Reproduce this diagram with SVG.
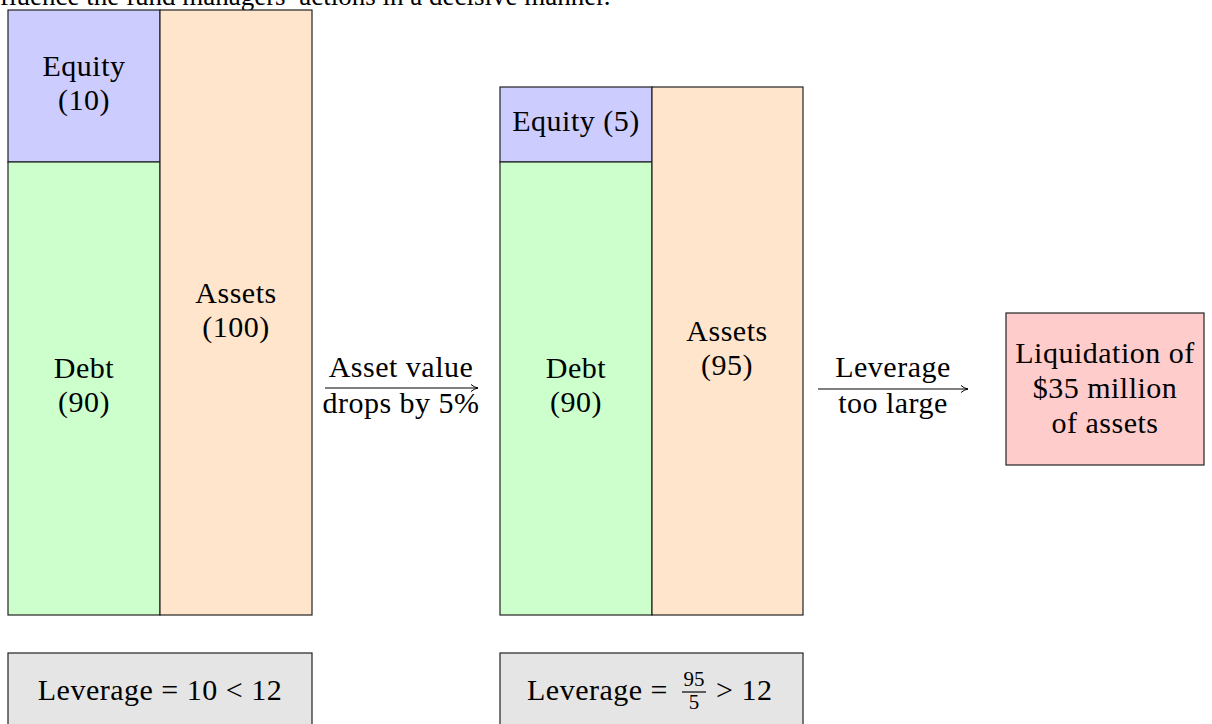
<svg xmlns="http://www.w3.org/2000/svg" width="1212" height="724" viewBox="0 0 1212 724">
<style>
text{font-family:"Liberation Serif","Times New Roman",serif;font-size:30px;fill:#000;text-anchor:middle;letter-spacing:0.5px}
.box{stroke:#222;stroke-width:1.2}
.eq{fill:#CCCCFF}.debt{fill:#CCFFCC}.ast{fill:#FFE5CC}.liq{fill:#FFCCCC}.lev{fill:#E5E5E5}
.conn{stroke:#000;stroke-width:1;fill:none;marker-end:url(#to)}
.sm{font-size:21px;letter-spacing:0}
</style>
<defs>
<marker id="to" viewBox="0 0 10 10" refX="9" refY="5" markerWidth="10" markerHeight="10" markerUnits="userSpaceOnUse" orient="auto">
<path d="M2,1.5 Q5,4.2 9,5 Q5,5.8 2,8.5" fill="none" stroke="#000" stroke-width="1"/>
</marker>
</defs>
<text x="-21" y="5" style="text-anchor:start;letter-spacing:0;font-size:27px">influence the fund managers’ actions in a decisive manner.</text>
<g id="before">
<g id="equity1"><rect class="box eq" x="8" y="10" width="152" height="152"/><text x="84" y="76">Equity</text><text x="84" y="110">(10)</text></g>
<g id="debt1"><rect class="box debt" x="8" y="162" width="152" height="453"/><text x="84" y="378">Debt</text><text x="84" y="412">(90)</text></g>
<g id="assets1"><rect class="box ast" x="160" y="10" width="152" height="605"/><text x="236" y="303">Assets</text><text x="236" y="337">(100)</text></g>
</g>
<g id="after">
<g id="equity2"><rect class="box eq" x="500" y="87" width="152" height="75"/><text x="576" y="131">Equity (5)</text></g>
<g id="debt2"><rect class="box debt" x="500" y="162" width="152" height="453"/><text x="576" y="378">Debt</text><text x="576" y="412">(90)</text></g>
<g id="assets2"><rect class="box ast" x="652" y="87" width="151" height="528"/><text x="727" y="341">Assets</text><text x="727" y="375">(95)</text></g>
</g>
<g id="liquidation"><rect class="box liq" x="1006" y="313" width="198" height="152"/><text x="1105" y="363">Liquidation of</text><text x="1105" y="398">$35 million</text><text x="1105" y="433">of assets</text></g>
<g id="leverage1"><rect class="box lev" x="8" y="653" width="304" height="90"/><text x="160" y="700">Leverage = 10 &lt; 12</text></g>
<g id="leverage2"><rect class="box lev" x="500" y="653" width="303" height="90"/>
<text x="527" y="700" style="text-anchor:start">Leverage =</text>
<text class="sm" x="694" y="686">95</text>
<line x1="682" y1="692" x2="706" y2="692" stroke="#000" stroke-width="1.2"/>
<text class="sm" x="694" y="709">5</text>
<text x="716" y="700" style="text-anchor:start">&gt; 12</text>
</g>
<g id="connectors">
<line class="conn" x1="325" y1="388" x2="478" y2="388"/>
<text x="401" y="377">Asset value</text><text x="401" y="413">drops by 5%</text>
<line class="conn" x1="818" y1="389" x2="968" y2="389"/>
<text x="893" y="377">Leverage</text><text x="893" y="413">too large</text>
</g>
</svg>
